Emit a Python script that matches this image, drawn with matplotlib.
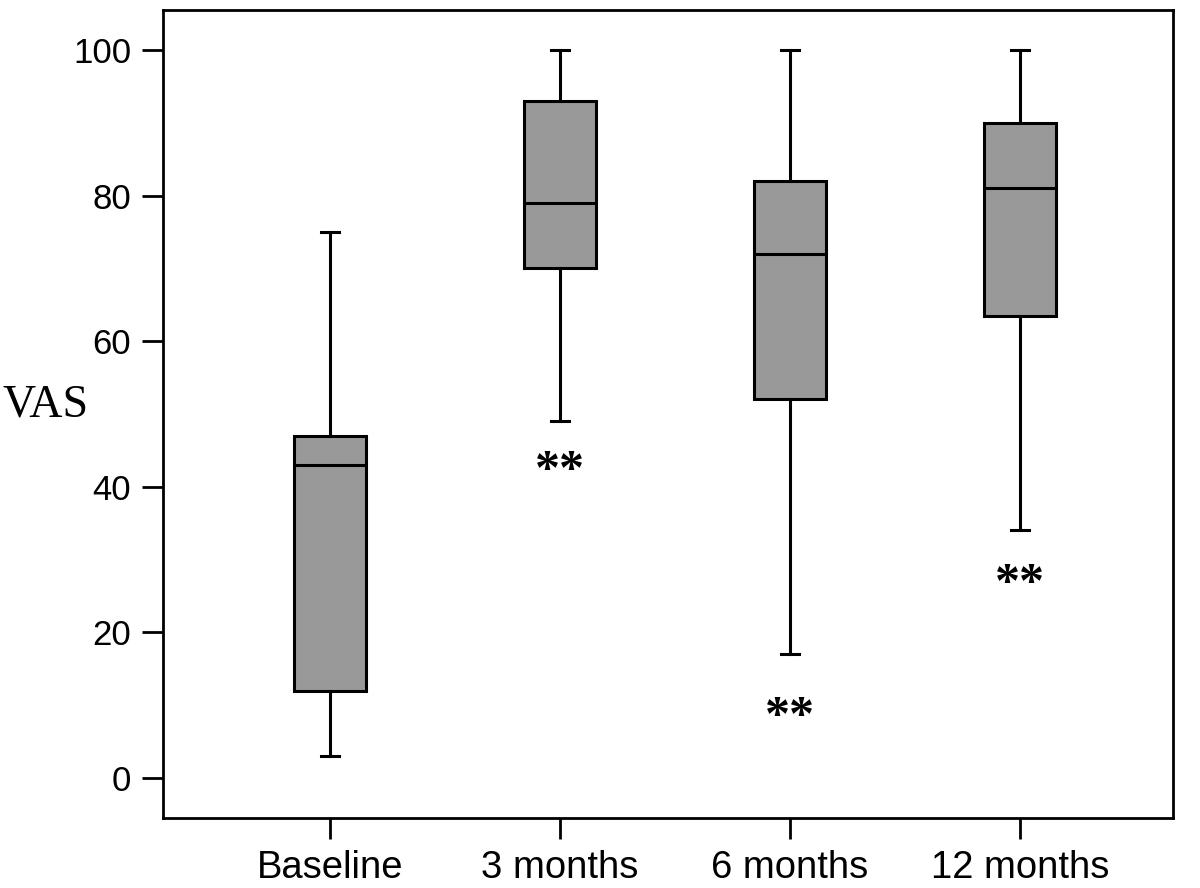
import matplotlib
matplotlib.use("Agg")
import matplotlib.pyplot as plt

# ── DATA ─────────────────────────────────────────────────────────────────────
groups = ["Baseline", "3 months", "6 months", "12 months"]
whislo = [3, 49, 17, 34]
q1 = [12, 70, 52, 63.5]
med = [43, 79, 72, 81]
q3 = [47, 93, 82, 90]
whishi = [75, 100, 100, 100]
# significance markers (label, y position) per group
sig_labels = ["", "**", "**", "**"]
sig_y = [None, 42.0, 8.3, 26.5]

# ── PLOT ─────────────────────────────────────────────────────────────────────
fig = plt.figure(figsize=(12, 8.88), dpi=100)
ax = fig.add_axes([0.1358, 0.0788, 0.8417, 0.9099])

stats = []
for i, g in enumerate(groups):
    stats.append(dict(label=g, whislo=whislo[i], q1=q1[i], med=med[i],
                      q3=q3[i], whishi=whishi[i], fliers=[]))

pos = list(range(1, len(groups) + 1))
ax.bxp(stats, positions=pos, widths=0.31, patch_artist=True, showfliers=False,
       boxprops=dict(facecolor="#999999", edgecolor="black", linewidth=2.2),
       medianprops=dict(color="black", linewidth=2.2),
       whiskerprops=dict(color="black", linewidth=2.2),
       capprops=dict(color="black", linewidth=2.2),
       capwidths=0.08)

for p, lab, y in zip(pos, sig_labels, sig_y):
    if lab:
        ax.text(p, y, lab, ha="center", va="center", fontsize=36,
                fontweight="bold", family="Liberation Serif")

ax.set_xlim(0.274, 4.665)
ax.set_ylim(-5.5, 105.5)
ax.set_yticks([0, 20, 40, 60, 80, 100])
ax.set_xticks(pos)
ax.set_xticklabels(groups)

for s in ax.spines.values():
    s.set_linewidth(2)
ax.tick_params(axis="both", direction="out", length=15, width=2)
ax.tick_params(axis="y", labelsize=25, pad=8)
ax.tick_params(axis="x", labelsize=27.5, pad=8)
for lbl in ax.get_xticklabels() + ax.get_yticklabels():
    lbl.set_family("Liberation Sans")

fig.text(46 / 1200, 1 - 405 / 888, "VAS", ha="center", va="center",
         fontsize=33, family="Liberation Serif")

fig.savefig("out.png", dpi=100)
